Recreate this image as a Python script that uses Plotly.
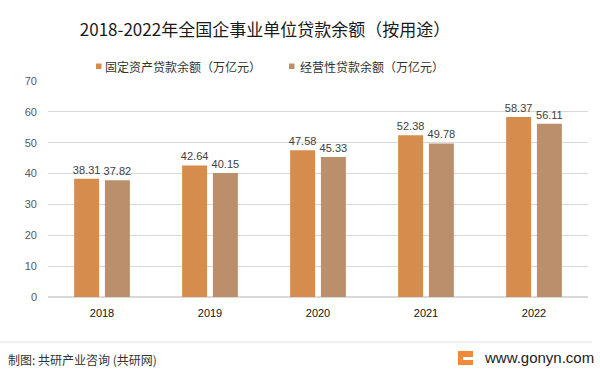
import plotly.graph_objects as go

years = ["2018", "2019", "2020", "2021", "2022"]
fixed_assets = [38.31, 42.64, 47.58, 52.38, 58.37]
operating = [37.82, 40.15, 45.33, 49.78, 56.11]
series_names = ["固定资产贷款余额（万亿元）", "经营性贷款余额（万亿元）"]
series_colors = ["#D68C4D", "#BB8E6C"]
y_ticks = [0, 10, 20, 30, 40, 50, 60, 70]

num_font = "Liberation Sans"
cjk_font = "Noto Sans CJK SC"

W, H = 600, 375
L, R, T, B = 48, 12, 81, 78


def px(x):
    return (x - L) / (W - L - R)


def py(y):
    return (H - B - y) / (H - T - B)


fig = go.Figure()
for name, vals, col in zip(series_names, [fixed_assets, operating], series_colors):
    fig.add_trace(go.Bar(
        x=years, y=vals, name=name,
        marker=dict(color=col, line=dict(width=0)),
        text=[f"{v:.2f}" for v in vals], textposition="outside",
        textfont=dict(size=11, color="#404040", family=num_font),
        constraintext="none", cliponaxis=False, showlegend=False,
    ))

fig.update_layout(
    width=W, height=H,
    margin=dict(l=L, r=R, t=T, b=B),
    paper_bgcolor="white", plot_bgcolor="white",
    barmode="group", bargap=0.43, bargroupgap=0.19,
    title=dict(text="2018-2022年全国企事业单位贷款余额（按用途）",
               xref="container", x=265 / W, xanchor="center",
               yref="container", y=1 - 30 / H, yanchor="middle",
               font=dict(size=17, color="#1a1a1a", family=cjk_font)),
    showlegend=False,
    xaxis=dict(showgrid=False, showline=False, ticks="", ticklabelstandoff=8,
               tickfont=dict(size=11, color="#111111", family=num_font)),
    yaxis=dict(range=[0, 70], tickvals=y_ticks, showgrid=True, gridcolor="#D9D9D9",
               gridwidth=1, zeroline=True, zerolinecolor="#D9D9D9", showline=False,
               ticks="", ticklabelstandoff=10,
               tickfont=dict(size=11, color="#595959", family=num_font)),
    font=dict(family=cjk_font),
)

# manual legend
legend_items = [(96, 103), (289, 298)]
for (mx, tx), name, col in zip(legend_items, series_names, series_colors):
    fig.add_shape(type="rect", xref="paper", yref="paper",
                  x0=px(mx), x1=px(mx + 5.5), y0=py(69), y1=py(63.5),
                  fillcolor=col, line=dict(width=0))
    fig.add_annotation(text=name, xref="paper", yref="paper",
                       x=px(tx), y=py(66.5), xanchor="left", yanchor="middle",
                       showarrow=False,
                       font=dict(size=12, color="#333333", family=cjk_font))

# footer separator line
fig.add_shape(type="line", xref="paper", yref="paper",
              x0=px(0), x1=px(592), y0=py(342), y1=py(342),
              line=dict(color="#E3E3E3", width=1))
# footer logo
fig.add_shape(type="rect", xref="paper", yref="paper",
              x0=px(458), x1=px(473), y0=py(365), y1=py(351),
              fillcolor="#F08A3C", line=dict(width=0))
fig.add_shape(type="rect", xref="paper", yref="paper",
              x0=px(463), x1=px(473), y0=py(360), y1=py(357),
              fillcolor="white", line=dict(width=0))
fig.add_annotation(text="制图: 共研产业咨询 (共研网)", xref="paper", yref="paper",
                   x=px(6), y=py(359), xanchor="left", yanchor="middle",
                   showarrow=False, font=dict(size=12, color="#333333", family=cjk_font))
fig.add_annotation(text="www.gonyn.com", xref="paper", yref="paper",
                   x=px(482), y=py(357), xanchor="left", yanchor="middle",
                   showarrow=False, font=dict(size=15, color="#222222", family=num_font))

fig.write_html("out.html",
               config={"displayModeBar": False},
               post_script="document.body.style.margin='0';document.body.style.padding='0';")
